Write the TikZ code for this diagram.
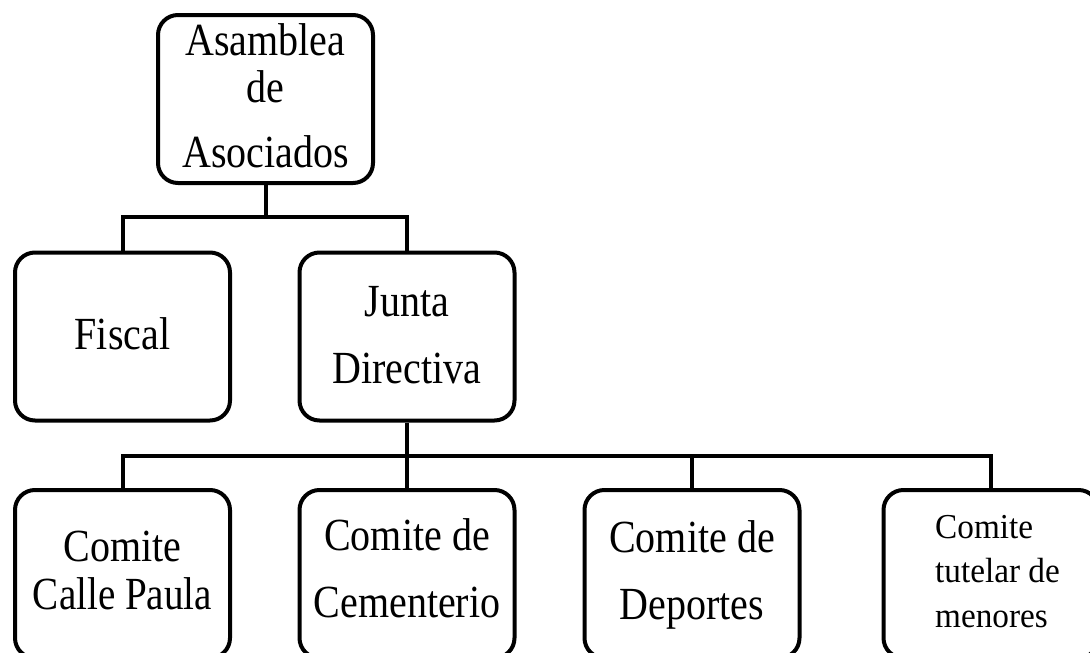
\documentclass[tikz,border=0pt]{standalone}
\usepackage{fontspec}
\setmainfont{Liberation Serif}
\usepackage{graphicx}
\begin{document}
\begin{tikzpicture}[x=1pt,y=-1pt,
  box/.style={draw=black,line width=4pt,rounded corners=20pt,minimum width=215pt,minimum height=168pt,inner sep=0pt},
  lbl/.style={anchor=base,inner sep=0pt,font=\fontsize{46}{50}\selectfont},
  lbls/.style={anchor=base west,inner sep=0pt,font=\fontsize{35}{40}\selectfont},
  con/.style={line width=4pt}]
\useasboundingbox (0,0) rectangle (1090,653);
\clip (0,0) rectangle (1090,653);
% boxes
\node[box] (asam) at (265.5,99) {};
\node[box] (fiscal) at (122.5,336.5) {};
\node[box] (junta) at (407,336.5) {};
\node[box] (calle) at (122.5,574) {};
\node[box] (cement) at (407,574) {};
\node[box] (deport) at (692,574) {};
\node[box] (tutelar) at (991,574) {};
% junction coordinates
\coordinate (j1) at (265.5,217);
\coordinate (j2) at (407,456);
% connectors
\draw[con] (asam.south) -- (j1);
\draw[con] (j1) -| (fiscal.north);
\draw[con] (j1) -| (junta.north);
\draw[con] (junta.south) -- (j2);
\draw[con] (j2) -| (calle.north);
\draw[con] (j2) -- (cement.north);
\draw[con] (j2) -| (deport.north);
\draw[con] (j2) -| (tutelar.north);
% texts
\node[lbl] (t1) at (265.5,55) {\scalebox{0.87}[1]{Asamblea}};
\node[lbl] (t2) at (265.5,102) {\scalebox{0.87}[1]{de}};
\node[lbl] (t3) at (265.5,167) {\scalebox{0.87}[1]{Asociados}};
\node[lbl] (t4) at (122.5,349) {\scalebox{0.87}[1]{Fiscal}};
\node[lbl] (t5) at (407,316) {\scalebox{0.87}[1]{Junta}};
\node[lbl] (t6) at (407,383) {\scalebox{0.87}[1]{Directiva}};
\node[lbl] (t7) at (122.5,561) {\scalebox{0.87}[1]{Comite}};
\node[lbl] (t8) at (122.5,609) {\scalebox{0.85}[1]{Calle Paula}};
\node[lbl] (t9) at (407,550) {\scalebox{0.87}[1]{Comite de}};
\node[lbl] (t10) at (407,617) {\scalebox{0.87}[1]{Cementerio}};
\node[lbl] (t11) at (692,552) {\scalebox{0.87}[1]{Comite de}};
\node[lbl] (t12) at (692,619) {\scalebox{0.87}[1]{Deportes}};
\node[lbls] (t13) at (935,538) {\scalebox{0.95}[1]{Comite}};
\node[lbls] (t14) at (935,582) {\scalebox{0.95}[1]{tutelar de}};
\node[lbls] (t15) at (935,627) {\scalebox{0.95}[1]{menores}};
\end{tikzpicture}
\end{document}
